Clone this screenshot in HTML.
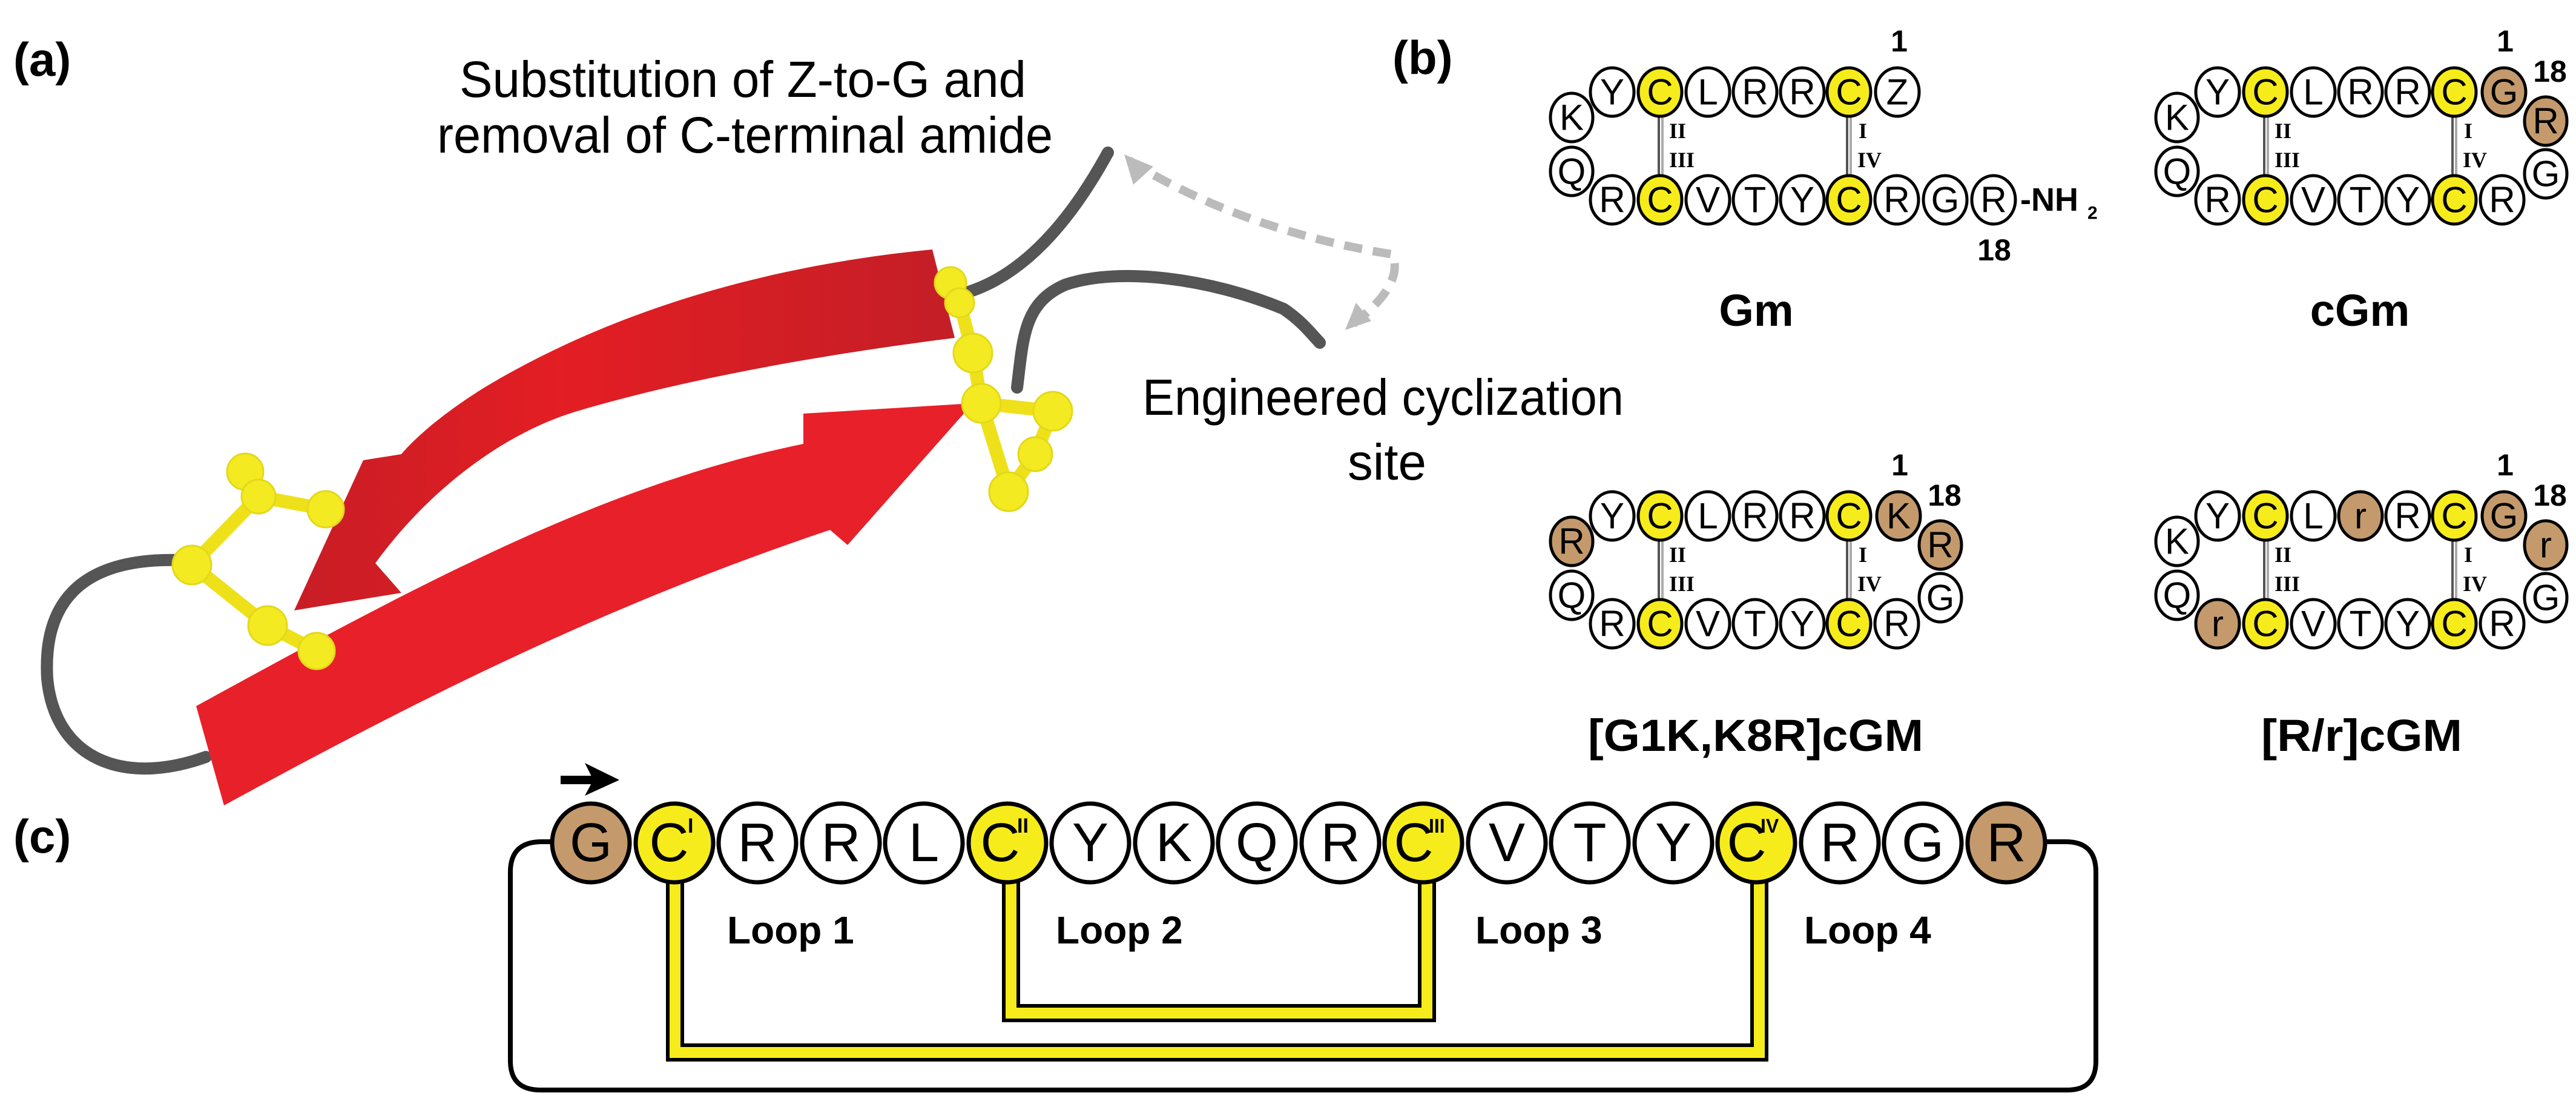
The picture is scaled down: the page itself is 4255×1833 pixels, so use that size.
<!DOCTYPE html>
<html><head><meta charset="utf-8"><style>
html,body{margin:0;padding:0;background:#fff}
svg{display:block}
text{font-family:"Liberation Sans",Arial,sans-serif}
.b text{font-size:60px;text-anchor:middle;dominant-baseline:central}
.b .rn text{font-family:"Liberation Serif",serif;font-size:36px;font-weight:bold;text-anchor:start;dominant-baseline:auto}
.b text.nm{font-size:50px;font-weight:bold;text-anchor:middle;dominant-baseline:auto}
.w{fill:#fff}.y{fill:#f7ec1b}.n{fill:#c49a6c}
.c text{font-size:90px;text-anchor:middle;dominant-baseline:central}
.rn{font-family:"Liberation Serif",serif;font-size:34px;font-weight:bold}
.lab{font-size:78px;font-weight:bold}
</style></head><body>
<svg width="4255" height="1833" viewBox="0 0 4255 1833" xmlns="http://www.w3.org/2000/svg">
<defs>
<linearGradient id="g1" x1="0" y1="0" x2="1" y2="0"><stop offset="0" stop-color="#c81d25"/><stop offset="0.4" stop-color="#e31e24"/><stop offset="1" stop-color="#c41e26"/></linearGradient>
</defs>
<rect width="4255" height="1833" fill="#fff"/>
<text x="22" y="125" class="lab" font-size="88">(a)</text>
<text x="2300" y="122" class="lab" font-size="88">(b)</text>
<text x="22" y="1408" class="lab" font-size="88">(c)</text>

<text x="759" y="160" font-size="84" textLength="936" lengthAdjust="spacingAndGlyphs">Substitution of Z-to-G and</text>
<text x="722" y="252" font-size="84" textLength="1017" lengthAdjust="spacingAndGlyphs">removal of C-terminal amide</text>
<text x="1887" y="685" font-size="84" textLength="795" lengthAdjust="spacingAndGlyphs">Engineered cyclization</text>
<text x="2226" y="792" font-size="84" textLength="130" lengthAdjust="spacingAndGlyphs">site</text>

<path d="M1865,265 Q2050,380 2300,420 Q2320,470 2235,535" fill="none" stroke="#bbb" stroke-width="14" stroke-dasharray="30,18"/>
<polygon points="1857,255 1905,275 1872,305" fill="#bbb"/>
<polygon points="2222,545 2240,500 2265,530" fill="#bbb"/>

<g fill="none" stroke="#555" stroke-width="20" stroke-linecap="round">
<path d="M340,1250 C200,1300 90,1250 78,1120 C70,980 150,920 300,925"/>
<path d="M1590,485 C1680,460 1760,380 1830,252"/>
<path d="M1680,640 C1690,560 1690,500 1760,470 C1850,440 2000,460 2120,510 C2150,530 2165,550 2180,566"/>
</g>

<path d="M1540,412 C1250,440 1000,520 800,640 C720,690 680,730 663,750 L600,760 L486,1008 L663,979 L620,930 C700,820 820,720 950,680 C1150,620 1400,580 1577,558 Z" fill="url(#g1)"/>
<path d="M324,1166 C700,960 1000,800 1327,733 L1327,683 L1607,666 L1400,900 L1371,875 C1000,1000 700,1150 370,1330 Z" fill="#e8202a"/>

<g stroke="#eee11a" stroke-width="22" fill="none" stroke-linecap="round">
<path d="M405,779 L427,820 L538,841"/><path d="M427,820 L317,933 L442,1033 L523,1075"/>
<path d="M1570,467 L1585,500 L1607,583 L1621,666 L1739,679 L1710,750 L1666,812"/><path d="M1621,666 L1666,812"/>
</g>
<g fill="#f3ea22" stroke="#e3d81a" stroke-width="3">
<circle cx="405" cy="779" r="30"/><circle cx="427" cy="820" r="28"/><circle cx="538" cy="841" r="30"/><circle cx="317" cy="933" r="32"/><circle cx="442" cy="1033" r="32"/><circle cx="523" cy="1075" r="30"/>
<circle cx="1570" cy="467" r="26"/><circle cx="1585" cy="500" r="24"/><circle cx="1607" cy="583" r="32"/><circle cx="1621" cy="666" r="32"/><circle cx="1739" cy="679" r="32"/><circle cx="1710" cy="750" r="28"/><circle cx="1666" cy="812" r="32"/>
</g>

<g class="b">
<g stroke="#555" stroke-width="4">
<line x1="2740" y1="190" x2="2740" y2="292"/><line x1="2746" y1="190" x2="2746" y2="292" stroke="#aaa"/>
<line x1="3051" y1="190" x2="3051" y2="292"/><line x1="3057" y1="190" x2="3057" y2="292" stroke="#aaa"/>
<line x1="3740" y1="190" x2="3740" y2="292"/><line x1="3746" y1="190" x2="3746" y2="292" stroke="#aaa"/>
<line x1="4051" y1="190" x2="4051" y2="292"/><line x1="4057" y1="190" x2="4057" y2="292" stroke="#aaa"/>
<line x1="2740" y1="890" x2="2740" y2="992"/><line x1="2746" y1="890" x2="2746" y2="992" stroke="#aaa"/>
<line x1="3051" y1="890" x2="3051" y2="992"/><line x1="3057" y1="890" x2="3057" y2="992" stroke="#aaa"/>
<line x1="3740" y1="890" x2="3740" y2="992"/><line x1="3746" y1="890" x2="3746" y2="992" stroke="#aaa"/>
<line x1="4051" y1="890" x2="4051" y2="992"/><line x1="4057" y1="890" x2="4057" y2="992" stroke="#aaa"/>
</g>
<g class="rn">
<text x="2757" y="228">II</text><text x="2757" y="276">III</text><text x="3070" y="228">I</text><text x="3068" y="276">IV</text>
<text x="3757" y="228">II</text><text x="3757" y="276">III</text><text x="4070" y="228">I</text><text x="4068" y="276">IV</text>
<text x="2757" y="928">II</text><text x="2757" y="976">III</text><text x="3070" y="928">I</text><text x="3068" y="976">IV</text>
<text x="3757" y="928">II</text><text x="3757" y="976">III</text><text x="4070" y="928">I</text><text x="4068" y="976">IV</text>
</g>

<g stroke="#000" stroke-width="5">
<ellipse cx="2596" cy="194" rx="35" ry="40" class="w"/><ellipse cx="2596" cy="283" rx="35" ry="40" class="w"/>
<ellipse cx="2663" cy="152" rx="36" ry="40" class="w"/><ellipse cx="2742" cy="152" rx="36" ry="40" class="y"/><ellipse cx="2821" cy="152" rx="36" ry="40" class="w"/><ellipse cx="2899" cy="152" rx="36" ry="40" class="w"/><ellipse cx="2977" cy="152" rx="36" ry="40" class="w"/><ellipse cx="3054" cy="152" rx="36" ry="40" class="y"/><ellipse cx="3134" cy="152" rx="36" ry="40" class="w"/>
<ellipse cx="2663" cy="330" rx="36" ry="40" class="w"/><ellipse cx="2742" cy="330" rx="36" ry="40" class="y"/><ellipse cx="2821" cy="330" rx="36" ry="40" class="w"/><ellipse cx="2899" cy="330" rx="36" ry="40" class="w"/><ellipse cx="2977" cy="330" rx="36" ry="40" class="w"/><ellipse cx="3054" cy="330" rx="36" ry="40" class="y"/><ellipse cx="3133" cy="330" rx="36" ry="40" class="w"/><ellipse cx="3213" cy="330" rx="36" ry="40" class="w"/><ellipse cx="3293" cy="330" rx="36" ry="40" class="w"/>

<ellipse cx="3596" cy="194" rx="35" ry="40" class="w"/><ellipse cx="3596" cy="283" rx="35" ry="40" class="w"/>
<ellipse cx="3663" cy="152" rx="36" ry="40" class="w"/><ellipse cx="3742" cy="152" rx="36" ry="40" class="y"/><ellipse cx="3821" cy="152" rx="36" ry="40" class="w"/><ellipse cx="3899" cy="152" rx="36" ry="40" class="w"/><ellipse cx="3977" cy="152" rx="36" ry="40" class="w"/><ellipse cx="4054" cy="152" rx="36" ry="40" class="y"/><ellipse cx="4136" cy="152" rx="36" ry="40" class="n"/>
<ellipse cx="4205" cy="200" rx="35" ry="40" class="n"/><ellipse cx="4205" cy="287" rx="35" ry="40" class="w"/>
<ellipse cx="3663" cy="330" rx="36" ry="40" class="w"/><ellipse cx="3742" cy="330" rx="36" ry="40" class="y"/><ellipse cx="3821" cy="330" rx="36" ry="40" class="w"/><ellipse cx="3899" cy="330" rx="36" ry="40" class="w"/><ellipse cx="3977" cy="330" rx="36" ry="40" class="w"/><ellipse cx="4054" cy="330" rx="36" ry="40" class="y"/><ellipse cx="4133" cy="330" rx="36" ry="40" class="w"/>

<ellipse cx="2596" cy="894" rx="35" ry="40" class="n"/><ellipse cx="2596" cy="983" rx="35" ry="40" class="w"/>
<ellipse cx="2663" cy="852" rx="36" ry="40" class="w"/><ellipse cx="2742" cy="852" rx="36" ry="40" class="y"/><ellipse cx="2821" cy="852" rx="36" ry="40" class="w"/><ellipse cx="2899" cy="852" rx="36" ry="40" class="w"/><ellipse cx="2977" cy="852" rx="36" ry="40" class="w"/><ellipse cx="3054" cy="852" rx="36" ry="40" class="y"/><ellipse cx="3136" cy="852" rx="36" ry="40" class="n"/>
<ellipse cx="3205" cy="900" rx="35" ry="40" class="n"/><ellipse cx="3205" cy="987" rx="35" ry="40" class="w"/>
<ellipse cx="2663" cy="1030" rx="36" ry="40" class="w"/><ellipse cx="2742" cy="1030" rx="36" ry="40" class="y"/><ellipse cx="2821" cy="1030" rx="36" ry="40" class="w"/><ellipse cx="2899" cy="1030" rx="36" ry="40" class="w"/><ellipse cx="2977" cy="1030" rx="36" ry="40" class="w"/><ellipse cx="3054" cy="1030" rx="36" ry="40" class="y"/><ellipse cx="3133" cy="1030" rx="36" ry="40" class="w"/>

<ellipse cx="3596" cy="894" rx="35" ry="40" class="w"/><ellipse cx="3596" cy="983" rx="35" ry="40" class="w"/>
<ellipse cx="3663" cy="852" rx="36" ry="40" class="w"/><ellipse cx="3742" cy="852" rx="36" ry="40" class="y"/><ellipse cx="3821" cy="852" rx="36" ry="40" class="w"/><ellipse cx="3899" cy="852" rx="36" ry="40" class="n"/><ellipse cx="3977" cy="852" rx="36" ry="40" class="w"/><ellipse cx="4054" cy="852" rx="36" ry="40" class="y"/><ellipse cx="4136" cy="852" rx="36" ry="40" class="n"/>
<ellipse cx="4205" cy="900" rx="35" ry="40" class="n"/><ellipse cx="4205" cy="987" rx="35" ry="40" class="w"/>
<ellipse cx="3663" cy="1030" rx="36" ry="40" class="n"/><ellipse cx="3742" cy="1030" rx="36" ry="40" class="y"/><ellipse cx="3821" cy="1030" rx="36" ry="40" class="w"/><ellipse cx="3899" cy="1030" rx="36" ry="40" class="w"/><ellipse cx="3977" cy="1030" rx="36" ry="40" class="w"/><ellipse cx="4054" cy="1030" rx="36" ry="40" class="y"/><ellipse cx="4133" cy="1030" rx="36" ry="40" class="w"/>
</g>

<text x="2596" y="194">K</text><text x="2596" y="283">Q</text>
<text x="2663" y="152">Y</text><text x="2742" y="152">C</text><text x="2821" y="152">L</text><text x="2899" y="152">R</text><text x="2977" y="152">R</text><text x="3054" y="152">C</text><text x="3134" y="152">Z</text>
<text x="2663" y="330">R</text><text x="2742" y="330">C</text><text x="2821" y="330">V</text><text x="2899" y="330">T</text><text x="2977" y="330">Y</text><text x="3054" y="330">C</text><text x="3133" y="330">R</text><text x="3213" y="330">G</text><text x="3293" y="330">R</text>
<text x="3337" y="330" style="text-anchor:start;font-weight:bold;font-size:54px">-NH</text><text x="3448" y="352" style="text-anchor:start;font-size:30px;font-weight:bold">2</text>
<text x="3137" y="85" class="nm">1</text><text x="3294" y="430" class="nm">18</text>
<text x="2901" y="538" style="font-size:74px;font-weight:bold;dominant-baseline:auto">Gm</text>

<text x="3596" y="194">K</text><text x="3596" y="283">Q</text>
<text x="3663" y="152">Y</text><text x="3742" y="152">C</text><text x="3821" y="152">L</text><text x="3899" y="152">R</text><text x="3977" y="152">R</text><text x="4054" y="152">C</text><text x="4136" y="152">G</text>
<text x="4205" y="200">R</text><text x="4205" y="287">G</text>
<text x="3663" y="330">R</text><text x="3742" y="330">C</text><text x="3821" y="330">V</text><text x="3899" y="330">T</text><text x="3977" y="330">Y</text><text x="4054" y="330">C</text><text x="4133" y="330">R</text>
<text x="4138" y="85" class="nm">1</text><text x="4212" y="135" class="nm">18</text>
<text x="3898" y="538" style="font-size:74px;font-weight:bold;dominant-baseline:auto">cGm</text>

<text x="2596" y="894">R</text><text x="2596" y="983">Q</text>
<text x="2663" y="852">Y</text><text x="2742" y="852">C</text><text x="2821" y="852">L</text><text x="2899" y="852">R</text><text x="2977" y="852">R</text><text x="3054" y="852">C</text><text x="3136" y="852">K</text>
<text x="3205" y="900">R</text><text x="3205" y="987">G</text>
<text x="2663" y="1030">R</text><text x="2742" y="1030">C</text><text x="2821" y="1030">V</text><text x="2899" y="1030">T</text><text x="2977" y="1030">Y</text><text x="3054" y="1030">C</text><text x="3133" y="1030">R</text>
<text x="3138" y="785" class="nm">1</text><text x="3212" y="835" class="nm">18</text>
<text x="2900" y="1240" style="font-size:74px;font-weight:bold;dominant-baseline:auto" textLength="554" lengthAdjust="spacingAndGlyphs">[G1K,K8R]cGM</text>

<text x="3596" y="894">K</text><text x="3596" y="983">Q</text>
<text x="3663" y="852">Y</text><text x="3742" y="852">C</text><text x="3821" y="852">L</text><text x="3899" y="852">r</text><text x="3977" y="852">R</text><text x="4054" y="852">C</text><text x="4136" y="852">G</text>
<text x="4205" y="900">r</text><text x="4205" y="987">G</text>
<text x="3663" y="1030">r</text><text x="3742" y="1030">C</text><text x="3821" y="1030">V</text><text x="3899" y="1030">T</text><text x="3977" y="1030">Y</text><text x="4054" y="1030">C</text><text x="4133" y="1030">R</text>
<text x="4138" y="785" class="nm">1</text><text x="4212" y="835" class="nm">18</text>
<text x="3901" y="1240" style="font-size:74px;font-weight:bold;dominant-baseline:auto" textLength="332" lengthAdjust="spacingAndGlyphs">[R/r]cGM</text>
</g>

<!-- panel c -->
<path d="M976,1390 L895,1390 Q843,1390 843,1440 L843,1752 Q843,1800 893,1800 L3415,1800 Q3462,1800 3462,1752 L3462,1440 Q3462,1390 3412,1390 L3320,1390" fill="none" stroke="#000" stroke-width="8"/>
<path d="M1115,1450 L1115,1738 L2906,1738 L2906,1450" fill="none" stroke="#000" stroke-width="30"/>
<path d="M1115,1450 L1115,1738 L2906,1738 L2906,1450" fill="none" stroke="#f7ec1b" stroke-width="18"/>
<path d="M1670,1450 L1670,1673 L2357,1673 L2357,1450" fill="none" stroke="#000" stroke-width="30"/>
<path d="M1670,1450 L1670,1673 L2357,1673 L2357,1450" fill="none" stroke="#f7ec1b" stroke-width="18"/>
<line x1="926" y1="1288" x2="990" y2="1288" stroke="#000" stroke-width="14"/>
<polygon points="966,1260 1023,1288 966,1314 980,1288" fill="#000"/>

<g class="c">
<g stroke="#000" stroke-width="7">
<ellipse cx="976" cy="1392" rx="64" ry="65" class="n"/><ellipse cx="1114" cy="1392" rx="64" ry="65" class="y"/><ellipse cx="1251" cy="1392" rx="64" ry="65" class="w"/><ellipse cx="1389" cy="1392" rx="64" ry="65" class="w"/><ellipse cx="1526" cy="1392" rx="64" ry="65" class="w"/><ellipse cx="1664" cy="1392" rx="64" ry="65" class="y"/><ellipse cx="1801" cy="1392" rx="64" ry="65" class="w"/><ellipse cx="1939" cy="1392" rx="64" ry="65" class="w"/><ellipse cx="2076" cy="1392" rx="64" ry="65" class="w"/><ellipse cx="2214" cy="1392" rx="64" ry="65" class="w"/><ellipse cx="2351" cy="1392" rx="64" ry="65" class="y"/><ellipse cx="2489" cy="1392" rx="64" ry="65" class="w"/><ellipse cx="2626" cy="1392" rx="64" ry="65" class="w"/><ellipse cx="2764" cy="1392" rx="64" ry="65" class="w"/><ellipse cx="2901" cy="1392" rx="64" ry="65" class="y"/><ellipse cx="3039" cy="1392" rx="64" ry="65" class="w"/><ellipse cx="3176" cy="1392" rx="64" ry="65" class="w"/><ellipse cx="3314" cy="1392" rx="64" ry="65" class="n"/>
</g>
<text x="976" y="1392">G</text><text x="1105" y="1392">C</text><text x="1251" y="1392">R</text><text x="1389" y="1392">R</text><text x="1526" y="1392">L</text><text x="1652" y="1392">C</text><text x="1801" y="1392">Y</text><text x="1939" y="1392">K</text><text x="2076" y="1392">Q</text><text x="2214" y="1392">R</text><text x="2335" y="1392">C</text><text x="2489" y="1392">V</text><text x="2626" y="1392">T</text><text x="2764" y="1392">Y</text><text x="2885" y="1392">C</text><text x="3039" y="1392">R</text><text x="3176" y="1392">G</text><text x="3314" y="1392">R</text>
</g>
<g class="rn" font-size="40">
<text x="1136" y="1375">I</text><text x="1680" y="1375">II</text><text x="2360" y="1375" font-size="32">III</text><text x="2908" y="1375" font-size="32">IV</text>
</g>
<g font-weight="bold" font-size="64">
<text x="1201" y="1558">Loop 1</text><text x="1744" y="1558">Loop 2</text><text x="2437" y="1558">Loop 3</text><text x="2980" y="1558">Loop 4</text>
</g>
</svg>
</body></html>
